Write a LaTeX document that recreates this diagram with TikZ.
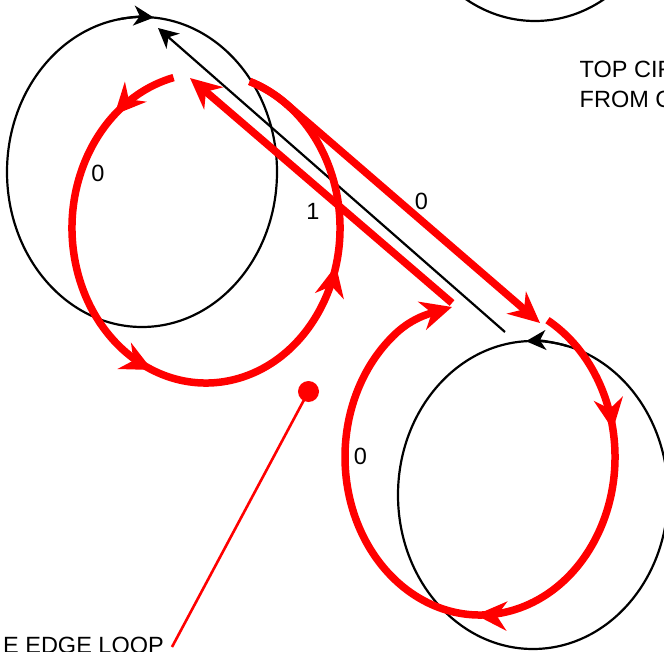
\documentclass[tikz,border=0pt]{standalone}
\usepackage{fontspec}
\setmainfont{Liberation Sans}
\usetikzlibrary{arrows.meta,decorations.markings}
\begin{document}
\begin{tikzpicture}[x=1pt,y=-1pt,
  blk/.style={line width=2.2pt,black},
  redl/.style={line width=7.5pt,red},
  thinred/.style={line width=2.6pt,red},
  rtip/.tip={Stealth[length=31pt,width=29pt,inset=10pt]},
  btip/.tip={Stealth[length=20pt,width=20pt,inset=6pt]},
  lbl/.style={inner sep=0pt,font=\fontsize{23.5}{28}\selectfont},
  midarrows/.style={postaction={decorate},decoration={markings,#1}}]
\useasboundingbox (0,0) rectangle (664,652);
\clip (0,0) rectangle (664,652);
% centres
\coordinate (bc1) at (142,172);
\coordinate (bc2) at (533,495);
\coordinate (bc3) at (535,-134);
\coordinate (rc1) at (206,228);
\coordinate (rc2) at (480,457);
% black circles
\draw[blk] (bc1) ellipse [x radius=135, y radius=155];
\draw[blk] (bc2) ellipse [x radius=135, y radius=154];
\draw[blk] (bc3) ellipse [x radius=135, y radius=155];
\draw[blk,-{btip}] ([shift={(bc1)}]-100:135 and 155) arc[start angle=-100,end angle=-85,x radius=135,y radius=155];
\draw[blk,-{btip}] ([shift={(bc2)}]-75:135 and 154) arc[start angle=-75,end angle=-93,x radius=135,y radius=154];
% black diagonal
\coordinate (bs) at (505,332);
\coordinate (be) at (158,28);
\draw[blk,-{btip}] (bs) -- (be);
% red loop 1
\draw[redl,midarrows={mark=at position 0.085 with {\arrow{rtip}},mark=at position 0.44 with {\arrow{rtip}},mark=at position 0.735 with {\arrow{rtip}}}]
  ([shift={(rc1)}]-104:134 and 155) arc[start angle=-104,end angle=-431,x radius=134,y radius=155];
% edge 0
\coordinate (e0end) at (540,323);
\draw[redl,-{rtip}] ([shift={(rc1)}]-71:134 and 155) arc[start angle=-71,end angle=-54,x radius=134,y radius=155] -- (e0end);
% edge 1
\coordinate (e1s) at (452,303);
\coordinate (e1e) at (190,78);
\draw[redl,-{rtip}] (e1s) -- (e1e);
% red loop 2
\coordinate (l2end) at (452,307);
\draw[redl,-{rtip},midarrows={mark=at position 0.16 with {\arrow{rtip}},mark=at position 0.48 with {\arrow{rtip}}}]
  ([shift={(rc2)}]-60:135 and 158) arc[start angle=-60,end angle=230,x radius=135,y radius=158]
  .. controls (410,319) and (428,314) .. (l2end);
% labels
\node[lbl] (l0a) at (98,173) {0};
\node[lbl] (l1) at (313,211.5) {1};
\node[lbl] (l0b) at (421.5,201.5) {0};
\node[lbl] (l0c) at (360.5,456.5) {0};
% pin
\node[circle,fill=red,inner sep=0pt,minimum size=21pt] (dot) at (308.5,391.5) {};
\coordinate (pinend) at (172,647);
\draw[thinred] (dot.center) -- (pinend);
\node[lbl,anchor=base east] (t1) at (164,653.5) {E EDGE LOOP};
\node[lbl,anchor=base west] (t2) at (579.5,77.5) {TOP CIR};
\node[lbl,anchor=base west] (t3) at (579.5,107.5) {FROM C};
\end{tikzpicture}
\end{document}
